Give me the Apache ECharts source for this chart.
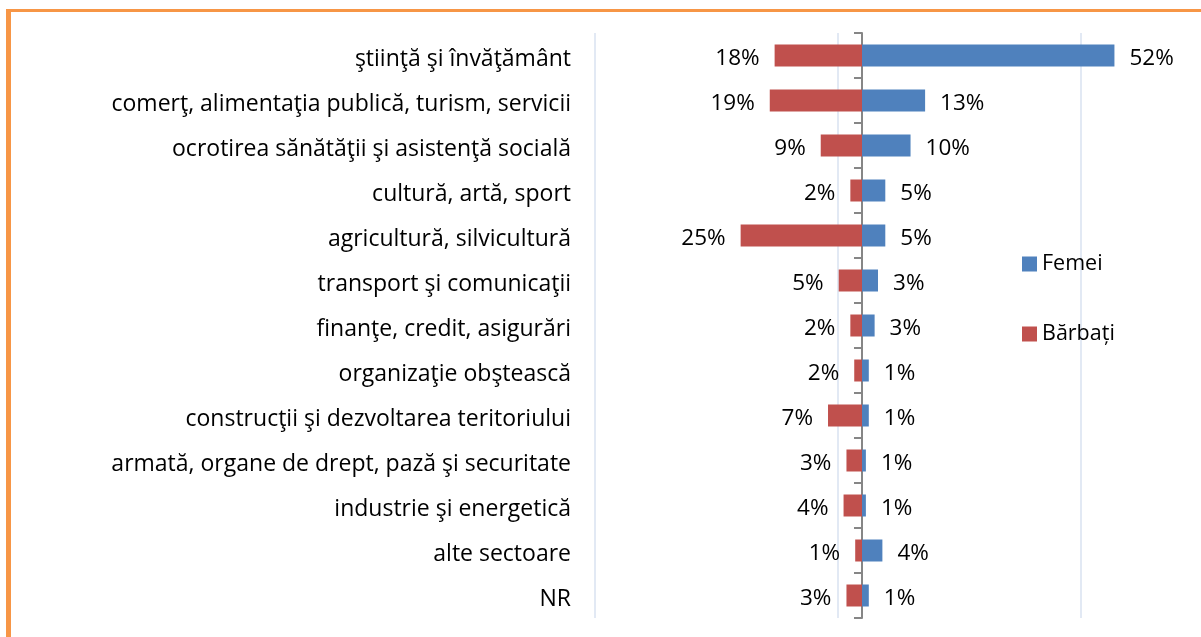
<!DOCTYPE html>
<html>
<head>
<meta charset="utf-8">
<script src="https://cdn.jsdelivr.net/npm/echarts@6/dist/echarts.min.js"></script>
<style>
html,body{margin:0;padding:0;background:#fff;}
#frame{position:absolute;left:6px;top:9px;right:0;bottom:0;border-top:3px solid #F79646;border-left:5px solid #F79646;}
#chart{position:absolute;left:0;top:0;width:1201px;height:637px;}
</style>
</head>
<body>
<div id="frame"></div>
<div id="chart"></div>
<script>
const categories = [
  "ştiinţă şi învăţământ",
  "comerţ, alimentaţia publică, turism, servicii",
  "ocrotirea sănătăţii şi asistenţă socială",
  "cultură, artă, sport",
  "agricultură, silvicultură",
  "transport şi comunicaţii",
  "finanţe, credit, asigurări",
  "organizaţie obştească",
  "construcţii şi dezvoltarea teritoriului",
  "armată, organe de drept, pază şi securitate",
  "industrie şi energetică",
  "alte sectoare",
  "NR"
];
const femei = [52, 13, 10, 5, 5, 3, 3, 1, 1, 1, 1, 4, 1];
const barbati = [18, 19, 9, 2, 25, 5, 2, 2, 7, 3, 4, 1, 3];
const femeiExact = [52, 13, 10, 4.8, 4.8, 3.3, 2.6, 1.4, 1.4, 0.8, 0.8, 4.2, 1.4];
const barbatiExact = [18, 19, 8.5, 2.4, 25, 4.8, 2.4, 1.6, 7, 3.2, 3.8, 1.4, 3.2];

const FONT = '"Open Sans"';
const FS_CAT = 23;
const FS = 22.5;
const chart = echarts.init(document.getElementById('chart'), null, {renderer: 'canvas'});
chart.setOption({
  animation: false,
  textStyle: {fontFamily: FONT},
  legend: {
    orient: 'vertical',
    left: 1022,
    top: 253,
    padding: 0,
    itemWidth: 15,
    itemHeight: 15,
    itemGap: 48,
    icon: 'rect',
    data: ['Femei', 'Bărbați'],
    textStyle: {fontFamily: FONT, fontSize: 21.5, color: '#000', padding: [5, 0, 0, 0]}
  },
  grid: [
    {left: 595, right: 72, top: 33, bottom: 19, containLabel: false},
    {left: 595, right: 72, top: 37, bottom: 15, containLabel: false}
  ],
  xAxis: [
    {
      type: 'value', gridIndex: 0,
      min: -55, max: 55, interval: 50,
      axisLabel: {show: false},
      axisTick: {show: false},
      axisLine: {show: false},
      splitLine: {show: true, showMaxLine: false, lineStyle: {color: '#d9e2f1', width: 1.5}}
    },
    {
      type: 'value', gridIndex: 1, show: false,
      min: -55, max: 55, interval: 50,
      splitLine: {show: false}
    }
  ],
  yAxis: [
    {
      type: 'category', gridIndex: 0, data: categories, inverse: true, position: 'left',
      axisLine: {show: true, onZero: true, lineStyle: {color: '#868686', width: 2}},
      axisTick: {show: true, length: 8, lineStyle: {color: '#868686', width: 2}},
      axisLabel: {show: false},
      splitLine: {show: false}
    },
    {
      type: 'category', gridIndex: 1, data: categories, inverse: true, position: 'left',
      axisLine: {show: false, onZero: false},
      axisTick: {show: false},
      splitLine: {show: false},
      axisLabel: {margin: 24, fontSize: FS_CAT, color: '#000', fontFamily: FONT}
    }
  ],
  series: [
    {
      name: 'Femei', type: 'bar', xAxisIndex: 0, yAxisIndex: 0,
      data: femeiExact, barWidth: 22, barGap: '-100%',
      itemStyle: {color: '#4F81BD'},
      label: {show: true, position: 'right', distance: 15, fontSize: FS, color: '#000', fontFamily: FONT,
        offset: [0, 3], formatter: p => femei[p.dataIndex] + '%'}
    },
    {
      name: 'Bărbați', type: 'bar', xAxisIndex: 0, yAxisIndex: 0,
      data: barbatiExact.map(v => -v), barWidth: 22, barGap: '-100%',
      itemStyle: {color: '#C0504D'},
      label: {show: true, position: 'left', distance: 15, fontSize: FS, color: '#000', fontFamily: FONT,
        offset: [0, 3], formatter: p => barbati[p.dataIndex] + '%'}
    }
  ]
});
</script>
</body>
</html>
